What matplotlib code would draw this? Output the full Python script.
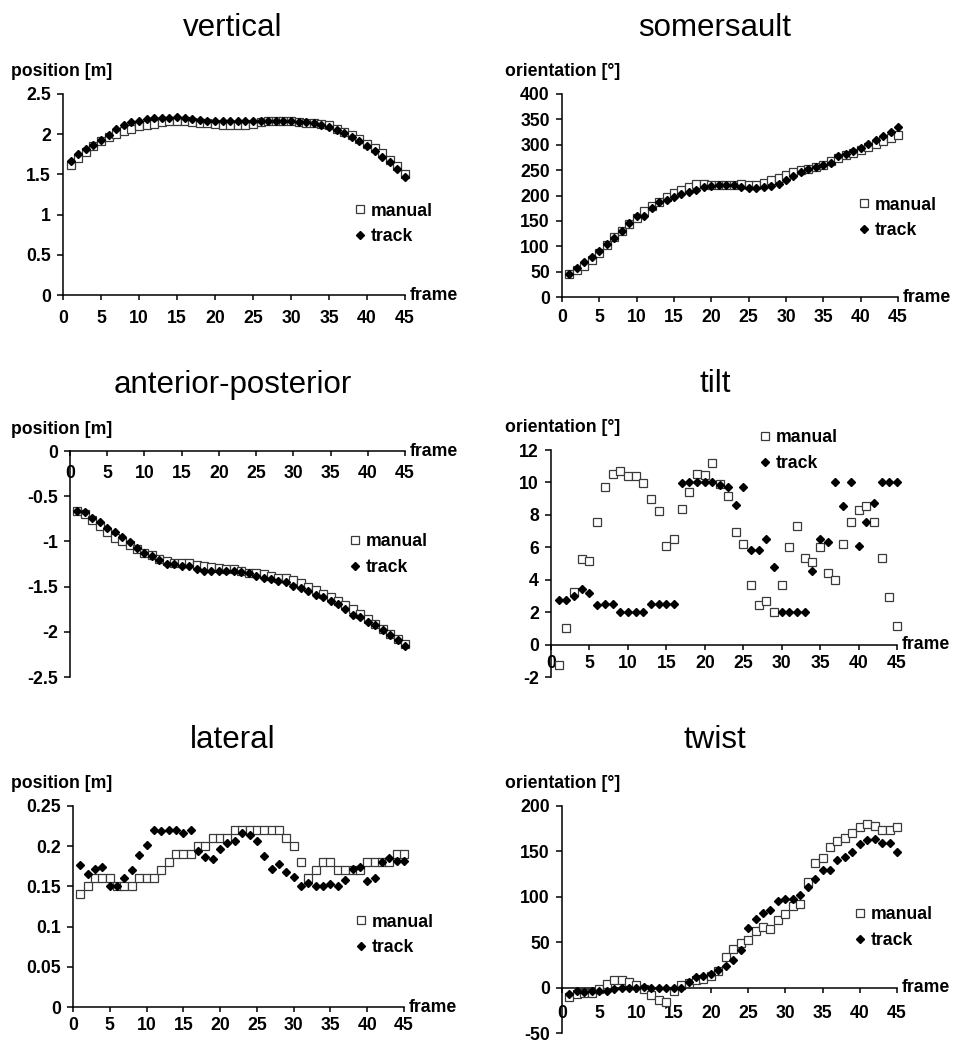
# -*- coding: utf-8 -*-
"""
Manual digitisation vs. tracking: position and orientation per frame.
"""

# %%
import numpy as np
import matplotlib
matplotlib.use('Agg')
import matplotlib.pyplot as plt
from matplotlib.ticker import FuncFormatter

# %%
frames = np.arange(1, 46)

vertical_manual = [1.62, 1.71, 1.78, 1.85, 1.91, 1.96, 2.00, 2.04, 2.07, 2.10, 2.11, 2.13, 2.15, 2.16, 2.16,
                   2.16, 2.15, 2.14, 2.14, 2.13, 2.12, 2.12, 2.12, 2.12, 2.13, 2.15, 2.17, 2.17, 2.17, 2.16,
                   2.15, 2.14, 2.14, 2.13, 2.11, 2.07, 2.03, 1.99, 1.94, 1.88, 1.83, 1.76, 1.68, 1.60, 1.51]
vertical_track = [1.67, 1.75, 1.81, 1.87, 1.93, 1.99, 2.06, 2.11, 2.15, 2.17, 2.19, 2.20, 2.20, 2.20, 2.21,
                  2.20, 2.19, 2.18, 2.17, 2.16, 2.16, 2.16, 2.16, 2.16, 2.17, 2.17, 2.17, 2.17, 2.17, 2.17,
                  2.15, 2.15, 2.14, 2.12, 2.09, 2.05, 2.01, 1.96, 1.91, 1.85, 1.79, 1.72, 1.65, 1.57, 1.47]

somersault_manual = [45, 53, 62, 73, 87, 103, 119, 131, 143, 155, 169, 180, 188, 197, 204,
                     210, 217, 222, 223, 221, 220, 220, 220, 222, 221, 221, 224, 230, 235, 241,
                     246, 250, 253, 257, 260, 267, 273, 279, 284, 289, 295, 301, 307, 314, 320]
somersault_track = [46, 58, 69, 79, 91, 104, 116, 130, 145, 159, 160, 175, 187, 192, 197,
                    202, 206, 211, 216, 219, 220, 220, 220, 216, 214, 215, 216, 219, 223, 230,
                    239, 247, 252, 256, 260, 265, 278, 282, 287, 293, 302, 309, 317, 326, 335]

ap_manual = [-0.66, -0.70, -0.76, -0.83, -0.90, -0.96, -1.00, -1.04, -1.08, -1.13, -1.15, -1.19, -1.22, -1.24, -1.24,
             -1.24, -1.26, -1.27, -1.28, -1.29, -1.30, -1.31, -1.33, -1.35, -1.35, -1.36, -1.38, -1.40, -1.40, -1.43,
             -1.46, -1.50, -1.54, -1.58, -1.62, -1.66, -1.70, -1.75, -1.80, -1.86, -1.91, -1.97, -2.02, -2.08, -2.13]
ap_track = [-0.66, -0.68, -0.74, -0.79, -0.85, -0.90, -0.95, -1.01, -1.07, -1.13, -1.16, -1.21, -1.25, -1.25, -1.27,
            -1.27, -1.31, -1.33, -1.33, -1.33, -1.33, -1.33, -1.34, -1.35, -1.38, -1.41, -1.42, -1.44, -1.45, -1.49,
            -1.51, -1.55, -1.59, -1.62, -1.66, -1.69, -1.75, -1.81, -1.84, -1.89, -1.92, -1.98, -2.04, -2.09, -2.16]

tilt_manual = [-1.25, 1.05, 3.25, 5.3, 5.15, 7.57, 9.74, 10.5, 10.7, 10.42, 10.42, 9.95, 8.96, 8.23, 6.05,
               6.52, 8.39, 9.44, 10.52, 10.44, 11.18, 9.9, 9.19, 6.97, 6.22, 3.65, 2.46, 2.7, 1.99, 3.65,
               6.03, 7.32, 5.33, 5.07, 6.03, 4.39, 3.96, 6.19, 7.59, 8.27, 8.57, 7.55, 5.35, 2.95, 1.13]
tilt_track = [2.75, 2.75, 3.0, 3.43, 3.18, 2.42, 2.5, 2.5, 2.0, 2.0, 2.0, 2.0, 2.5, 2.5, 2.5,
              2.5, 9.95, 10.0, 10.0, 10.0, 10.0, 9.85, 9.72, 8.63, 9.74, 5.85, 5.83, 6.54, 4.8, 2.0,
              2.0, 2.0, 2.0, 4.51, 6.54, 6.3, 10.0, 8.55, 10.0, 6.11, 7.57, 8.74, 10.0, 10.0, 10.0]

lateral_manual = [0.14, 0.15, 0.16, 0.16, 0.16, 0.15, 0.15, 0.15, 0.16, 0.16, 0.16, 0.17, 0.18, 0.19, 0.19,
                  0.19, 0.20, 0.20, 0.21, 0.21, 0.21, 0.22, 0.22, 0.22, 0.22, 0.22, 0.22, 0.22, 0.21, 0.20,
                  0.18, 0.16, 0.17, 0.18, 0.18, 0.17, 0.17, 0.17, 0.17, 0.18, 0.18, 0.18, 0.18, 0.19, 0.19]
lateral_track = [0.176, 0.166, 0.172, 0.174, 0.150, 0.150, 0.160, 0.170, 0.189, 0.201, 0.220, 0.219, 0.220, 0.220, 0.216,
                 0.220, 0.194, 0.186, 0.184, 0.196, 0.204, 0.206, 0.216, 0.214, 0.206, 0.188, 0.172, 0.178, 0.168, 0.162,
                 0.151, 0.154, 0.150, 0.150, 0.153, 0.150, 0.158, 0.172, 0.174, 0.157, 0.160, 0.180, 0.185, 0.182, 0.182]

twist_manual = [-10.6, -7, -6, -5.5, -2, 4, 8.4, 8.4, 5.9, 3.3, -1, -8.4, -13.5, -16, -3.3,
                3.3, 4.8, 8.8, 9.9, 13.2, 18.7, 34, 43, 49, 52.4, 62.6, 67, 64, 74, 81,
                90, 92, 115.8, 137.7, 142.5, 155, 162, 165, 170, 177, 180, 177.6, 174, 174, 176.5]
twist_track = [-7.3, -4, -5, -4, -3.3, -3.3, -1.8, -0.7, -0.7, -0.4, 1, 0, 0, 0, 0,
               0, 6.6, 11.4, 12.8, 14.7, 19.4, 24.2, 30.4, 41.4, 66, 75.5, 82.4, 85.3, 95, 97.4,
               97.4, 102, 110.6, 119.4, 129.7, 129.7, 140.7, 143.6, 149, 158, 163, 164, 159, 159, 149.5]

# %%
W, H = 954, 1043
FS = 12.7

plt.rcParams['font.family'] = ['Liberation Sans', 'DejaVu Sans']
plt.rcParams['font.weight'] = 'bold'
plt.rcParams['axes.unicode_minus'] = False

# panel: title, y-label, manual, track, y-limits, y-step,
#        axes box in pixels (left, top, right, bottom), legend anchor, x tick pad
panels = [
    ('vertical', 'position [m]', vertical_manual, vertical_track, (0, 2.5), 0.5,
     (63, 94, 405, 295), (0.854, 0.353), 7.2),
    ('somersault', 'orientation [°]', somersault_manual, somersault_track, (0, 400), 50,
     (562, 94, 898, 297), (0.884, 0.389), 5.2),
    ('anterior-posterior', 'position [m]', ap_manual, ap_track, (-2.5, 0), 0.5,
     (70, 451, 405, 677), (0.836, 0.542), 6.5),
    ('tilt', 'orientation [°]', tilt_manual, tilt_track, (-2, 12), 2,
     (551, 450, 897, 677), (0.604, 0.998), 4.0),
    ('lateral', 'position [m]', lateral_manual, lateral_track, (0, 0.25), 0.05,
     (73, 806, 404, 1007), (0.855, 0.358), 3.4),
    ('twist', 'orientation [°]', twist_manual, twist_track, (-50, 200), 50,
     (562, 806, 897, 1033), (0.875, 0.463), 8.8),
]

fig = plt.figure(figsize=(W / 100, H / 100), dpi=100)


def plotting(title, ylabel, manual, track, ylim, ystep, box, leg_anchor, xpad):
    l, t, r, b = box
    ax = fig.add_axes([l / W, 1 - b / H, (r - l) / W, (b - t) / H])

    ax.plot(frames, manual, 's', ms=5.8, mfc='white', mec='#3a3a3a', mew=0.9,
            label='manual', clip_on=False, zorder=3)
    ax.plot(frames, track, 'D', ms=4.4, color='black', label='track', clip_on=False, zorder=4)

    ax.set_xlim(0, 45)
    ax.set_ylim(ylim)
    ax.set_xticks(np.arange(0, 46, 5))
    ax.set_yticks(np.arange(ylim[0], ylim[1] + ystep / 2, ystep))
    ax.yaxis.set_major_formatter(FuncFormatter(lambda v, p: f'{round(v, 3):g}'))

    for s in ['top', 'right']:
        ax.spines[s].set_visible(False)
    ax.spines['bottom'].set_position(('data', 0))
    ax.spines['left'].set_linewidth(1.1)
    ax.spines['bottom'].set_linewidth(1.1)

    ax.tick_params(axis='y', direction='out', length=4.3, width=1.1, pad=4.5, labelsize=FS)
    ax.tick_params(axis='x', direction='out', length=3.5, width=1.1, pad=xpad, labelsize=FS)

    ax.annotate('frame', xy=(1, 0), xycoords=('axes fraction', 'data'), xytext=(3.5, 0),
                textcoords='offset points', va='center', ha='left', fontsize=FS)

    ax.legend(loc='center left', bbox_to_anchor=leg_anchor, frameon=False, fontsize=FS,
              borderpad=0, borderaxespad=0, handlelength=0.6, handletextpad=0.3,
              labelspacing=0.5, markerscale=1.0)

    # title and y-axis label sit in figure pixels, like the source sheet
    cx = 233 if l < 477 else 715
    fig.text(cx / W, 1 - (t - 66) / H, title, ha='center', va='center',
             fontsize=22.5, fontweight='normal')
    lx = 11 if l < 477 else 505
    fig.text(lx / W, 1 - (t - 22) / H, ylabel, ha='left', va='center', fontsize=FS)


for p in panels:
    plotting(*p)

fig.savefig('out.png', dpi=100)
plt.close(fig)
